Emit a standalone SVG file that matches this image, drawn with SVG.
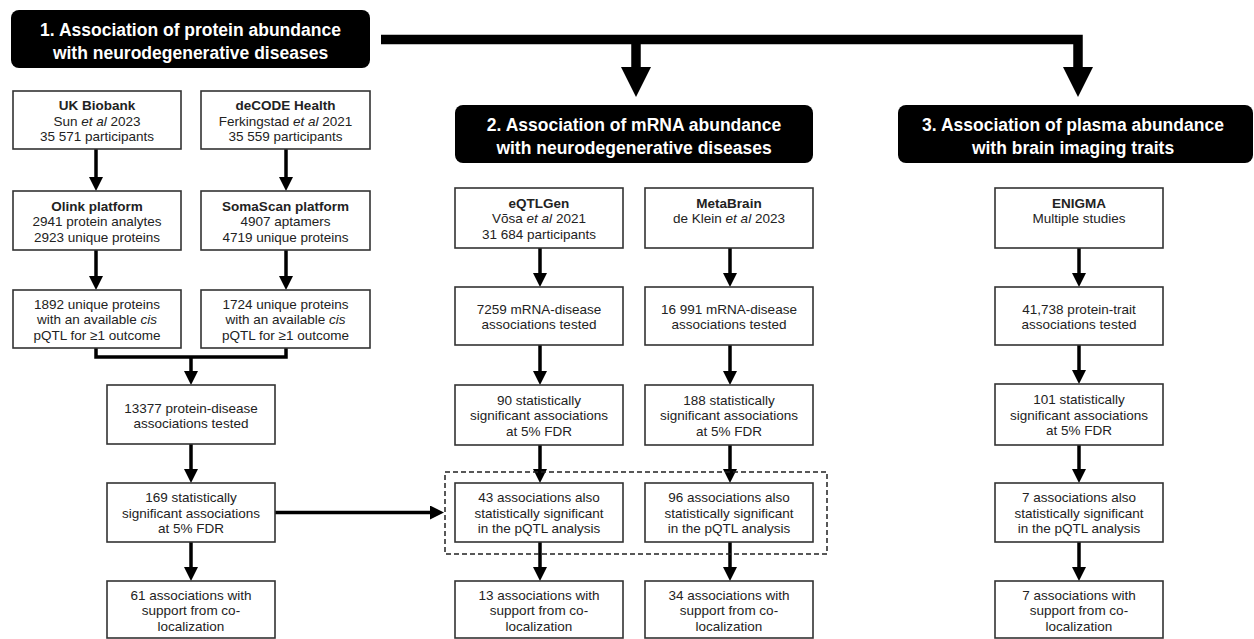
<svg xmlns="http://www.w3.org/2000/svg" width="1254" height="639" viewBox="0 0 1254 639">
<style>
.hdr{fill:#000}
.ht{font-family:"Liberation Sans",Arial,sans-serif;font-weight:bold;font-size:17.5px;fill:#fff;text-anchor:middle}
.box{fill:#fff;stroke:#333;stroke-width:1.6}
.t{font-family:"Liberation Sans",Arial,sans-serif;font-size:13.5px;fill:#222;text-anchor:middle}
.b{font-weight:bold}
.c{fill:none;stroke:#000;stroke-width:3.5}
.big{fill:none;stroke:#000;stroke-width:9.5;stroke-linejoin:miter}
</style>
<defs>
<marker id="ah" markerUnits="userSpaceOnUse" markerWidth="14" markerHeight="14" viewBox="0 0 14 14" refX="1" refY="7" orient="auto">
<path d="M0,0 L14,7 L0,14 z" fill="#000"/>
</marker>
</defs>
<rect width="1254" height="639" fill="#fff"/>

<g id="connectors">
<path class="big" d="M381,39.5 H1078 V70"/>
<path class="big" d="M636,39.5 V70"/>
<polygon points="621,67 651,67 636,97" fill="#000"/>
<polygon points="1063,67 1093,67 1078,97" fill="#000"/>
<line class="c" x1="96" y1="149" x2="96" y2="178" marker-end="url(#ah)"/>
<line class="c" x1="286" y1="149" x2="286" y2="178" marker-end="url(#ah)"/>
<line class="c" x1="96" y1="250" x2="96" y2="277" marker-end="url(#ah)"/>
<line class="c" x1="286" y1="250" x2="286" y2="277" marker-end="url(#ah)"/>
<path class="c" d="M96,348 V357 H286 V348" stroke-linejoin="miter"/>
<line class="c" x1="191" y1="357" x2="191" y2="372" marker-end="url(#ah)"/>
<line class="c" x1="191" y1="444" x2="191" y2="470" marker-end="url(#ah)"/>
<line class="c" x1="191" y1="542" x2="191" y2="568" marker-end="url(#ah)"/>
<line class="c" x1="275" y1="512.5" x2="431" y2="512.5" marker-end="url(#ah)"/>
<line class="c" x1="540" y1="248" x2="540" y2="274" marker-end="url(#ah)"/>
<line class="c" x1="730" y1="248" x2="730" y2="274" marker-end="url(#ah)"/>
<line class="c" x1="540" y1="345" x2="540" y2="372" marker-end="url(#ah)"/>
<line class="c" x1="730" y1="345" x2="730" y2="372" marker-end="url(#ah)"/>
<line class="c" x1="540" y1="445" x2="540" y2="470" marker-end="url(#ah)"/>
<line class="c" x1="730" y1="445" x2="730" y2="470" marker-end="url(#ah)"/>
<line class="c" x1="540" y1="542" x2="540" y2="568" marker-end="url(#ah)"/>
<line class="c" x1="730" y1="542" x2="730" y2="568" marker-end="url(#ah)"/>
<line class="c" x1="1079" y1="248" x2="1079" y2="274" marker-end="url(#ah)"/>
<line class="c" x1="1079" y1="345" x2="1079" y2="371" marker-end="url(#ah)"/>
<line class="c" x1="1079" y1="445" x2="1079" y2="470" marker-end="url(#ah)"/>
<line class="c" x1="1079" y1="542" x2="1079" y2="568" marker-end="url(#ah)"/>
</g>

<g id="dashed-group">
<rect x="445" y="472" width="382" height="82" fill="none" stroke="#222" stroke-width="1.5" stroke-dasharray="5,3"/>
</g>

<g id="header1">
<rect class="hdr" x="11" y="10" width="359" height="58" rx="8"/>
<text class="ht" x="190.5" y="36">1. Association of protein abundance</text>
<text class="ht" x="190.5" y="59">with neurodegenerative diseases</text>
</g>
<g id="header2">
<rect class="hdr" x="455" y="105" width="358" height="58" rx="8"/>
<text class="ht" x="634" y="131">2. Association of mRNA abundance</text>
<text class="ht" x="634" y="154">with neurodegenerative diseases</text>
</g>
<g id="header3">
<rect class="hdr" x="898" y="105" width="355" height="58" rx="8"/>
<text class="ht" x="1073" y="131">3. Association of plasma abundance</text>
<text class="ht" x="1073" y="154">with brain imaging traits</text>
</g>

<g id="ukbiobank">
<rect class="box" x="13" y="91" width="168" height="58"/>
<text class="t b" x="97" y="110">UK Biobank</text>
<text class="t" x="97" y="125.5">Sun <tspan font-style="italic">et al</tspan> 2023</text>
<text class="t" x="97" y="141">35 571 participants</text>
</g>
<g id="decode">
<rect class="box" x="201" y="91" width="169" height="58"/>
<text class="t b" x="285.5" y="110">deCODE Health</text>
<text class="t" x="285.5" y="125.5">Ferkingstad <tspan font-style="italic">et al</tspan> 2021</text>
<text class="t" x="285.5" y="141">35 559 participants</text>
</g>
<g id="olink">
<rect class="box" x="13" y="191" width="168" height="59"/>
<text class="t b" x="97" y="210.5">Olink platform</text>
<text class="t" x="97" y="226">2941 protein analytes</text>
<text class="t" x="97" y="241.5">2923 unique proteins</text>
</g>
<g id="somascan">
<rect class="box" x="201" y="191" width="169" height="59"/>
<text class="t b" x="285.5" y="210.5">SomaScan platform</text>
<text class="t" x="285.5" y="226">4907 aptamers</text>
<text class="t" x="285.5" y="241.5">4719 unique proteins</text>
</g>
<g id="olink-cis">
<rect class="box" x="13" y="290" width="168" height="58"/>
<text class="t" x="97" y="308.5">1892 unique proteins</text>
<text class="t" x="97" y="324">with an available <tspan font-style="italic">cis</tspan></text>
<text class="t" x="97" y="339.5">pQTL for ≥1 outcome</text>
</g>
<g id="soma-cis">
<rect class="box" x="201" y="290" width="169" height="58"/>
<text class="t" x="285.5" y="308.5">1724 unique proteins</text>
<text class="t" x="285.5" y="324">with an available <tspan font-style="italic">cis</tspan></text>
<text class="t" x="285.5" y="339.5">pQTL for ≥1 outcome</text>
</g>
<g id="p-tested">
<rect class="box" x="107" y="385" width="168" height="59"/>
<text class="t" x="191" y="412.5">13377 protein-disease</text>
<text class="t" x="191" y="428">associations tested</text>
</g>
<g id="p-sig">
<rect class="box" x="107" y="483" width="168" height="59"/>
<text class="t" x="191" y="502">169 statistically</text>
<text class="t" x="191" y="517.5">significant associations</text>
<text class="t" x="191" y="533">at 5% FDR</text>
</g>
<g id="p-coloc">
<rect class="box" x="107" y="581" width="168" height="57"/>
<text class="t" x="191" y="599.5">61 associations with</text>
<text class="t" x="191" y="615">support from co-</text>
<text class="t" x="191" y="630.5">localization</text>
</g>

<g id="eqtlgen">
<rect class="box" x="455" y="188" width="168" height="60"/>
<text class="t b" x="539" y="207.5">eQTLGen</text>
<text class="t" x="539" y="223">Võsa <tspan font-style="italic">et al</tspan> 2021</text>
<text class="t" x="539" y="238.5">31 684 participants</text>
</g>
<g id="metabrain">
<rect class="box" x="645" y="188" width="168" height="60"/>
<text class="t b" x="729" y="207.5">MetaBrain</text>
<text class="t" x="729" y="223">de Klein <tspan font-style="italic">et al</tspan> 2023</text>
</g>
<g id="e-tested">
<rect class="box" x="455" y="287" width="168" height="58"/>
<text class="t" x="539" y="313.5">7259 mRNA-disease</text>
<text class="t" x="539" y="329">associations tested</text>
</g>
<g id="m-tested">
<rect class="box" x="645" y="287" width="168" height="58"/>
<text class="t" x="729" y="313.5">16 991 mRNA-disease</text>
<text class="t" x="729" y="329">associations tested</text>
</g>
<g id="e-sig">
<rect class="box" x="455" y="385" width="168" height="60"/>
<text class="t" x="539" y="404.5">90 statistically</text>
<text class="t" x="539" y="420">significant associations</text>
<text class="t" x="539" y="435.5">at 5% FDR</text>
</g>
<g id="m-sig">
<rect class="box" x="645" y="385" width="168" height="60"/>
<text class="t" x="729" y="404.5">188 statistically</text>
<text class="t" x="729" y="420">significant associations</text>
<text class="t" x="729" y="435.5">at 5% FDR</text>
</g>
<g id="e-pqtl">
<rect class="box" x="455" y="483" width="168" height="59"/>
<text class="t" x="539" y="502">43 associations also</text>
<text class="t" x="539" y="517.5">statistically significant</text>
<text class="t" x="539" y="533">in the pQTL analysis</text>
</g>
<g id="m-pqtl">
<rect class="box" x="645" y="483" width="168" height="59"/>
<text class="t" x="729" y="502">96 associations also</text>
<text class="t" x="729" y="517.5">statistically significant</text>
<text class="t" x="729" y="533">in the pQTL analysis</text>
</g>
<g id="e-coloc">
<rect class="box" x="455" y="581" width="168" height="57"/>
<text class="t" x="539" y="599.5">13 associations with</text>
<text class="t" x="539" y="615">support from co-</text>
<text class="t" x="539" y="630.5">localization</text>
</g>
<g id="m-coloc">
<rect class="box" x="645" y="581" width="168" height="57"/>
<text class="t" x="729" y="599.5">34 associations with</text>
<text class="t" x="729" y="615">support from co-</text>
<text class="t" x="729" y="630.5">localization</text>
</g>

<g id="enigma">
<rect class="box" x="995" y="188" width="168" height="60"/>
<text class="t b" x="1079" y="207.5">ENIGMA</text>
<text class="t" x="1079" y="223">Multiple studies</text>
</g>
<g id="t-tested">
<rect class="box" x="995" y="287" width="168" height="58"/>
<text class="t" x="1079" y="313.5">41,738 protein-trait</text>
<text class="t" x="1079" y="329">associations tested</text>
</g>
<g id="t-sig">
<rect class="box" x="995" y="384" width="168" height="61"/>
<text class="t" x="1079" y="404">101 statistically</text>
<text class="t" x="1079" y="419.5">significant associations</text>
<text class="t" x="1079" y="435">at 5% FDR</text>
</g>
<g id="t-pqtl">
<rect class="box" x="995" y="483" width="168" height="59"/>
<text class="t" x="1079" y="502">7 associations also</text>
<text class="t" x="1079" y="517.5">statistically significant</text>
<text class="t" x="1079" y="533">in the pQTL analysis</text>
</g>
<g id="t-coloc">
<rect class="box" x="995" y="581" width="168" height="57"/>
<text class="t" x="1079" y="599.5">7 associations with</text>
<text class="t" x="1079" y="615">support from co-</text>
<text class="t" x="1079" y="630.5">localization</text>
</g>
</svg>
